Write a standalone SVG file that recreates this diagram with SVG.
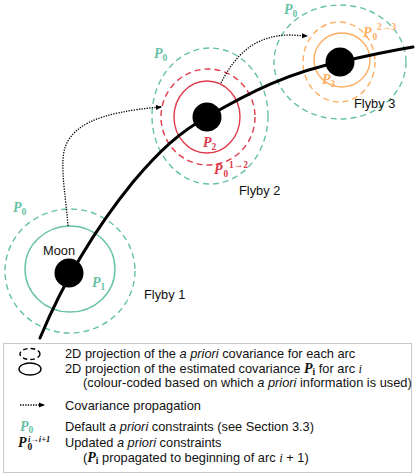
<svg xmlns="http://www.w3.org/2000/svg" width="416" height="476" viewBox="0 0 416 476">
<style>
.bg{fill:#ffffff}
.tealD{fill:none;stroke:#66c2a5;stroke-width:1.4;stroke-dasharray:6 4}
.tealS{fill:none;stroke:#66c2a5;stroke-width:1.4}
.redD{fill:none;stroke:#e03a4a;stroke-width:1.4;stroke-dasharray:6 4}
.redS{fill:none;stroke:#e03a4a;stroke-width:1.4}
.orD{fill:none;stroke:#fdae61;stroke-width:1.4;stroke-dasharray:6 4}
.orS{fill:none;stroke:#fdae61;stroke-width:1.4}
.moon{fill:#000}
.traj{fill:none;stroke:#000;stroke-width:3;stroke-linecap:round}
.dot{fill:none;stroke:#000;stroke-width:1.3;stroke-dasharray:1.3 1.3}
.lbl{font-family:"Liberation Sans",Arial,sans-serif;font-size:12.8px;fill:#111}
.P{font-family:"Liberation Serif","Times New Roman",serif;font-size:14px;font-weight:bold;font-style:italic}
.s{font-size:9.5px;font-style:normal}
.si{font-size:8.5px;font-style:italic}
.it{font-style:italic}
.teal{fill:#66c2a5}.red{fill:#e03a4a}.or{fill:#fdae61}.blk{fill:#111}
</style>
<defs>
<marker id="ah" viewBox="0 0 6 6" refX="5" refY="3" markerWidth="6" markerHeight="6" orient="auto" markerUnits="userSpaceOnUse">
<path d="M0,0.5 L6,3 L0,5.5 Z" fill="#000"/>
</marker>
</defs>
<rect class="bg" x="0" y="0" width="416" height="476"/>

<g id="flyby1">
<ellipse class="tealD" cx="70" cy="271" rx="65" ry="62"/>
<ellipse class="tealS" cx="70" cy="269" rx="45" ry="43"/>
</g>
<g id="flyby2">
<ellipse class="tealD" cx="210" cy="116" rx="58" ry="68"/>
<ellipse class="redD" cx="208" cy="117" rx="47" ry="48"/>
<ellipse class="redS" cx="207" cy="117" rx="33" ry="36"/>
</g>
<g id="flyby3">
<ellipse class="tealD" cx="340" cy="62" rx="66" ry="57"/>
<ellipse class="orD" cx="339" cy="62" rx="36" ry="40"/>
<ellipse class="orS" cx="342" cy="60" rx="28" ry="27"/>
</g>

<g id="trajectory">
<path class="traj" d="M40,338 C60,290 90,235 133,182 C160,150 180,132 207,117 C250,92 290,72 340,62 C370,55 395,50 413,47"/>
</g>

<g id="moons">
<circle id="moon1" class="moon" cx="69" cy="273" r="14.5"/>
<circle id="moon2" class="moon" cx="207" cy="117" r="14.5"/>
<circle id="moon3" class="moon" cx="340" cy="62" r="14.5"/>
</g>

<g id="connectors">
<path class="dot" d="M68,226 C66,200 62,178 63,160 C64,125 100,112 161,107" marker-end="url(#ah)"/>
<path class="dot" d="M221,83 C235,55 255,35 290,35 L307,36" marker-end="url(#ah)"/>
</g>

<g id="labels">
<text class="lbl" x="43" y="255">Moon</text>
<text class="lbl" x="144" y="299">Flyby 1</text>
<text class="lbl" x="239" y="195">Flyby 2</text>
<text class="lbl" x="354" y="108">Flyby 3</text>

<text class="P teal" x="13" y="212">P<tspan class="s" dy="2.5">0</tspan></text>
<text class="P teal" x="92" y="287">P<tspan class="s" dy="2.5">1</tspan></text>

<text class="P teal" x="154" y="58">P<tspan class="s" dy="2.5">0</tspan></text>
<text class="P red" x="203" y="147">P<tspan class="s" dy="2.5">2</tspan></text>
<text class="P red" x="214" y="174">P<tspan class="s" x="223.5" y="177">0</tspan><tspan class="s" x="229" y="167.5">1→2</tspan></text>

<text class="P teal" x="284" y="14">P<tspan class="s" dy="2.5">0</tspan></text>
<text class="P or" x="322" y="84">P<tspan class="s" dy="2.5">3</tspan></text>
<text class="P or" x="363" y="37">P<tspan class="s" x="372.5" y="40">0</tspan><tspan class="s" x="377" y="30">2→3</tspan></text>
</g>

<g id="legend">
<rect x="3.5" y="343.5" width="408" height="129" fill="#fff" stroke="#c8c8c8" stroke-width="1"/>
<ellipse cx="30" cy="354" rx="10" ry="5.5" fill="none" stroke="#000" stroke-width="1.4" stroke-dasharray="4.5 3"/>
<text class="lbl" x="65" y="358">2D projection of the <tspan class="it">a priori</tspan> covariance for each arc</text>
<ellipse cx="30" cy="369" rx="11" ry="6" fill="none" stroke="#000" stroke-width="1.4"/>
<text class="lbl" x="65" y="373">2D projection of the estimated covariance <tspan class="P blk" font-size="13px">P</tspan><tspan class="P blk s" dy="1.5">i</tspan><tspan dy="-1.5"> for arc </tspan><tspan class="it" font-family="Liberation Serif,serif">i</tspan></text>
<text class="lbl" x="83" y="387">(colour-coded based on which <tspan class="it">a priori</tspan> information is used)</text>
<path class="dot" d="M20,405 L44,405" marker-end="url(#ah)"/>
<text class="lbl" x="65" y="410">Covariance propagation</text>
<text class="P teal" x="20" y="431">P<tspan class="s" dy="2">0</tspan></text>
<text class="lbl" x="65" y="431">Default <tspan class="it">a priori</tspan> constraints (see Section 3.3)</text>
<text class="P blk" x="18" y="447">P<tspan class="s" x="27.5" y="450">0</tspan><tspan class="si" x="28" y="441.5">i→i+1</tspan></text>
<text class="lbl" x="65" y="447">Updated <tspan class="it">a priori</tspan> constraints</text>
<text class="lbl" x="83" y="462">(<tspan class="P blk" font-size="13px">P</tspan><tspan class="P blk s" dy="1.5">i</tspan><tspan dy="-1.5"> propagated to beginning of arc </tspan><tspan class="it" font-family="Liberation Serif,serif">i</tspan> + 1)</text>
</g>
</svg>
